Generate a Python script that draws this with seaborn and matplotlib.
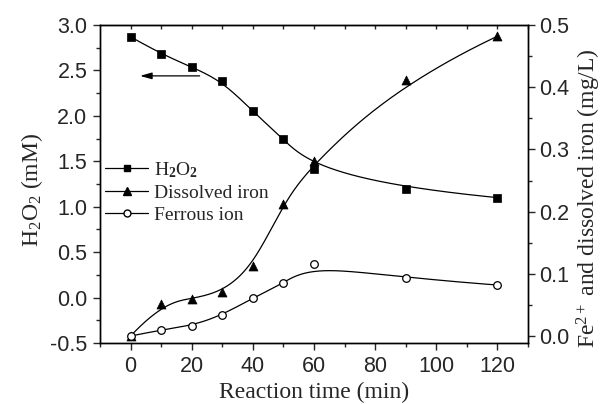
import numpy as np
import matplotlib
matplotlib.use("Agg")
import matplotlib.pyplot as plt
import seaborn as sns
from matplotlib.lines import Line2D
from matplotlib.ticker import MultipleLocator, FormatStrFormatter

# Reaction kinetics: H2O2 decay and iron release
time_min = [0, 10, 20, 30, 40, 50, 60, 90, 120]
h2o2_mM = [2.87, 2.68, 2.54, 2.38, 2.05, 1.74, 1.42, 1.20, 1.10]
dissolved_iron = [0.0, 0.052, 0.060, 0.071, 0.112, 0.213, 0.282, 0.412, 0.482]
ferrous_ion = [0.0, 0.010, 0.016, 0.034, 0.061, 0.085, 0.116, 0.093, 0.082]

series_labels = [r"H$_\mathbf{2}$O$_\mathbf{2}$", "Dissolved iron", "Ferrous ion"]


def bspline(xs, ys, n=400, k=3):
    """Clamped uniform B-spline using the data points as control points."""
    P = np.column_stack([xs, ys]).astype(float)
    m = len(P)
    knots = np.concatenate([np.zeros(k + 1), np.arange(1, m - k),
                            np.full(k + 1, m - k)]).astype(float)
    u = np.linspace(0, m - k, n)
    u[-1] -= 1e-9
    N = np.zeros((n, len(knots) - 1))
    for i in range(len(knots) - 1):
        N[:, i] = ((knots[i] <= u) & (u < knots[i + 1])).astype(float)
    for d in range(1, k + 1):
        Nn = np.zeros((n, len(knots) - 1 - d))
        for i in range(len(knots) - 1 - d):
            term = np.zeros(n)
            den1 = knots[i + d] - knots[i]
            den2 = knots[i + d + 1] - knots[i + 1]
            if den1 > 0:
                term += (u - knots[i]) / den1 * N[:, i]
            if den2 > 0:
                term += (knots[i + d + 1] - u) / den2 * N[:, i + 1]
            Nn[:, i] = term
        N = Nn
    C = N @ P
    return C[:, 0], C[:, 1]


sns.set_style("ticks")
plt.rcParams["font.family"] = ["Liberation Sans", "DejaVu Sans"]
plt.rcParams["mathtext.fontset"] = "custom"
plt.rcParams["mathtext.rm"] = "Liberation Serif"
plt.rcParams["mathtext.it"] = "Liberation Serif:italic"
plt.rcParams["mathtext.bf"] = "Liberation Serif:bold"

fig = plt.figure(figsize=(6.08, 4.04), dpi=100)
ax = fig.add_axes([100 / 608, 1 - 343 / 404, 428 / 608, 318 / 404])
ax2 = ax.twinx()

serif = ["Liberation Serif", "DejaVu Serif"]
line_kw = dict(color="black", lw=0.9, sort=False, estimator=None, legend=False)

# H2O2 on the left axis
cx, cy = bspline(time_min, h2o2_mM)
sns.lineplot(x=cx, y=cy, ax=ax, **line_kw)
sns.scatterplot(x=time_min, y=h2o2_mM, ax=ax, marker="s", s=26,
                color="black", edgecolor="black", linewidth=0.5, zorder=3,
                legend=False)

# Iron species on the right axis
cx, cy = bspline(time_min, dissolved_iron)
sns.lineplot(x=cx, y=cy, ax=ax2, **line_kw)
sns.scatterplot(x=time_min, y=dissolved_iron, ax=ax2, marker="^", s=42,
                color="black", edgecolor="black", linewidth=0.5, zorder=3,
                legend=False)

cx, cy = bspline(time_min, ferrous_ion)
sns.lineplot(x=cx, y=cy, ax=ax2, **line_kw)
sns.scatterplot(x=time_min, y=ferrous_ion, ax=ax2, marker="o", s=30,
                color="white", edgecolor="black", linewidth=0.9, zorder=3,
                legend=False)

# Axes limits and ticks
ax.set_xlim(-10, 130)
ax.set_ylim(-0.5, 3.0)
ax2.set_ylim(-0.0112, 0.5)

ax.set_xticks([0, 20, 40, 60, 80, 100, 120])
ax.xaxis.set_minor_locator(MultipleLocator(10))
ax.yaxis.set_major_locator(MultipleLocator(0.5))
ax.yaxis.set_minor_locator(MultipleLocator(0.25))
ax2.yaxis.set_major_locator(MultipleLocator(0.1))
ax2.yaxis.set_minor_locator(MultipleLocator(0.05))
ax.yaxis.set_major_formatter(FormatStrFormatter("%.1f"))
ax2.yaxis.set_major_formatter(FormatStrFormatter("%.1f"))

for a in (ax, ax2):
    a.tick_params(which="major", length=5, width=1, direction="out",
                  labelsize=15.5, pad=4)
    a.tick_params(which="minor", length=3, width=1, direction="out")
    for s in a.spines.values():
        s.set_linewidth(1)
        s.set_color("black")
ax.tick_params(axis="y", which="both", right=False)
ax2.tick_params(axis="y", which="both", left=False, pad=3)

# inward ticks along the top edge
top = ax.secondary_xaxis("top")
top.set_xticks(np.arange(0, 131, 10))
top.tick_params(direction="in", length=3, width=1, labeltop=False)
top.set_xticklabels([])

ax.set_xlabel("Reaction time (min)", fontsize=17, family=serif, labelpad=4)
ax.set_ylabel(r"H$_2$O$_2$ (mM)", fontsize=17, family=serif, labelpad=4)
ax2.set_ylabel(r"Fe$^{2+}$ and dissolved iron (mg/L)", fontsize=17,
               family=serif, labelpad=4)
ax.yaxis.label.set_y(0.48)
ax2.yaxis.label.set_y(0.455)

# arrow pointing to the left axis
ax.annotate("", xy=(2.2, 2.44), xytext=(23.5, 2.44),
            arrowprops=dict(arrowstyle="-|>,head_length=0.7,head_width=0.2",
                            color="black", lw=0.9, mutation_scale=10))

handles = [
    Line2D([], [], color="black", lw=0.9, marker="s", markersize=5,
           markerfacecolor="black"),
    Line2D([], [], color="black", lw=0.9, marker="^", markersize=6,
           markerfacecolor="black"),
    Line2D([], [], color="black", lw=0.9, marker="o", markersize=5,
           markerfacecolor="white", markeredgecolor="black"),
]
ax.legend(handles, series_labels, loc="center left",
          bbox_to_anchor=(0.012, 0.475), frameon=False, borderpad=0,
          borderaxespad=0, handlelength=2.2, handletextpad=0.3,
          labelspacing=0.22, prop={"family": serif, "size": 14})

fig.savefig("out.png", dpi=100)
